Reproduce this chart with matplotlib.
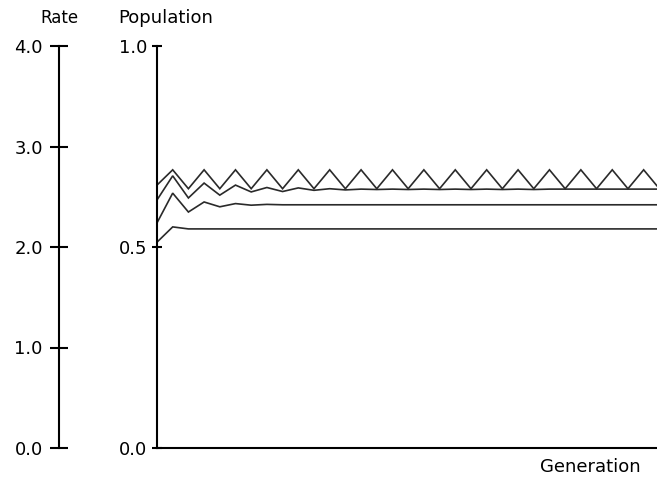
import matplotlib
matplotlib.use("Agg")
import matplotlib.pyplot as plt

# generations 0..32, population
generations = list(range(33))

pop_a = [0.654, 0.692, 0.645, 0.692, 0.645, 0.692, 0.645, 0.692, 0.645, 0.692, 0.645,
         0.692, 0.645, 0.692, 0.645, 0.692, 0.645, 0.692, 0.645, 0.692, 0.645, 0.692,
         0.645, 0.692, 0.645, 0.692, 0.645, 0.692, 0.645, 0.692, 0.645, 0.692, 0.645]
pop_b = [0.617, 0.677, 0.622, 0.659, 0.629, 0.654, 0.637, 0.648, 0.638, 0.647, 0.641,
         0.645, 0.642, 0.644, 0.643, 0.644, 0.643, 0.644, 0.643, 0.644, 0.643, 0.644,
         0.643, 0.644, 0.643, 0.644, 0.644, 0.644, 0.644, 0.644, 0.644, 0.644, 0.644]
pop_c = [0.560, 0.634, 0.587, 0.612, 0.600, 0.608, 0.604, 0.606, 0.605, 0.605, 0.605,
         0.605, 0.605, 0.605, 0.605, 0.605, 0.605, 0.605, 0.605, 0.605, 0.605, 0.605,
         0.605, 0.605, 0.605, 0.605, 0.605, 0.605, 0.605, 0.605, 0.605, 0.605, 0.605]
pop_d = [0.512, 0.550, 0.545, 0.545, 0.545, 0.545, 0.545, 0.545, 0.545, 0.545, 0.545,
         0.545, 0.545, 0.545, 0.545, 0.545, 0.545, 0.545, 0.545, 0.545, 0.545, 0.545,
         0.545, 0.545, 0.545, 0.545, 0.545, 0.545, 0.545, 0.545, 0.545, 0.545, 0.545]

rate_ticks = [0.0, 1.0, 2.0, 3.0, 4.0]
pop_ticks = [0.0, 0.5, 1.0]

W, H = 657, 478
fig = plt.figure(figsize=(W / 100, H / 100), dpi=100)

bottom = (H - 448) / H
height = 402 / H

# population panel
ax = fig.add_axes([157 / W, bottom, 500 / W, height])
for s in [pop_a, pop_b, pop_c, pop_d]:
    ax.plot(generations, s, color="#2a2a2a", lw=1.2, solid_joinstyle="miter")
ax.set_xlim(0, 31.85)
ax.set_ylim(0, 1)
ax.spines["top"].set_visible(False)
ax.spines["right"].set_visible(False)
ax.spines["left"].set_linewidth(1.5)
ax.spines["bottom"].set_linewidth(1.5)
ax.set_xticks([])
ax.set_yticks(pop_ticks)
ax.set_yticklabels(["%.1f" % t for t in pop_ticks])
ax.tick_params(axis="y", direction="inout", length=7.5, width=1.5, pad=3.5, labelsize=13)

# rate axis (just a spine with ticks)
rax = fig.add_axes([58.5 / W, bottom, 0.001, height])
rax.set_ylim(0, 4)
rax.set_xticks([])
for side in ["top", "right", "bottom"]:
    rax.spines[side].set_visible(False)
rax.spines["left"].set_linewidth(1.5)
rax.patch.set_visible(False)
rax.set_yticks(rate_ticks)
rax.set_yticklabels(["%.1f" % t for t in rate_ticks])
rax.tick_params(axis="y", direction="inout", length=12.5, width=1.5, pad=5, labelsize=13)

fig.text(59 / W, 1 - 18 / H, "Rate", ha="center", va="center", fontsize=12)
fig.text(118 / W, 1 - 18 / H, "Population", ha="left", va="center", fontsize=13)
fig.text(590 / W, 1 - 467 / H, "Generation", ha="center", va="center", fontsize=13)

fig.savefig("out.png", dpi=100)
